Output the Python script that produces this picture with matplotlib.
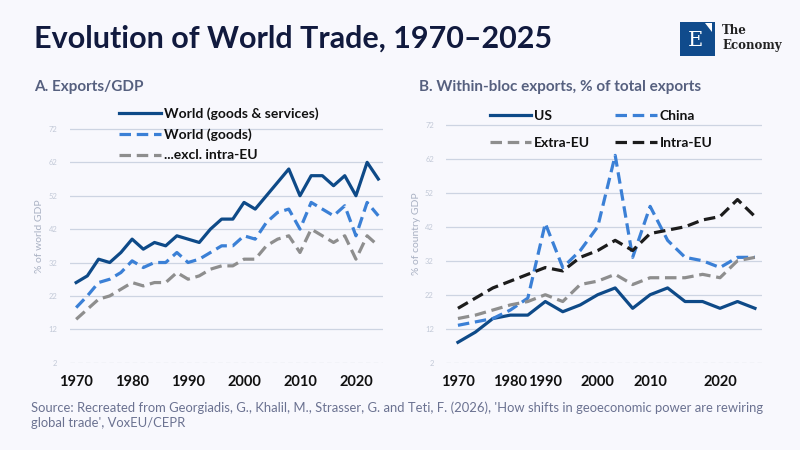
import matplotlib
matplotlib.use("Agg")
import matplotlib.pyplot as plt
from matplotlib.patches import Rectangle, Polygon

plt.rcParams['font.family'] = ['Lato', 'DejaVu Sans']

# ---- Panel A data ----
years_a = [1970, 1972, 1974, 1976, 1978, 1980, 1982, 1984, 1986, 1988, 1990, 1992, 1994, 1996,
           1998, 2000, 2002, 2004, 2006, 2008, 2010, 2012, 2014, 2016, 2018, 2020, 2022, 2024]
world_gs = [26, 28, 33, 32, 35, 39, 36, 38, 37, 40, 39, 38, 42, 45,
            45, 50, 48, 52, 56, 60, 52, 58, 58, 55, 58, 52, 62, 57]
world_goods = [18.5, 22, 26, 27, 29, 32.5, 30.5, 32, 32, 35, 32, 33, 35, 37,
               37, 40, 39, 44, 47, 48, 42, 50, 48, 46, 49, 40, 50, 46]
excl_intra_eu = [15, 18, 21, 22, 24, 26, 25, 26, 26, 29, 27, 28, 30, 31,
                 31, 33, 33, 37, 39, 40, 35, 42, 40, 38, 40, 33, 40, 37]

# ---- Panel B data ----
years_b = [1970, 1973, 1976, 1980, 1985, 1990, 1994, 1997, 2000, 2003, 2007, 2010,
           2013, 2016, 2018, 2020, 2023, 2025]
us = [8, 11, 15, 16, 16, 20, 17, 19, 22, 24, 18, 22, 24, 20, 20, 18, 20, 18]
china = [13, 14, 15, 17.5, 21, 43, 30, 35, 42, 63, 33, 48, 38, 33, 32, 30, 33, 33]
extra_eu = [15, 16, 17.5, 19, 20, 22, 20, 25, 26, 28, 25, 27, 27, 27, 28, 27, 32, 33]
intra_eu = [18, 21, 24, 26, 28, 30, 29, 33, 35, 38, 35, 40, 41, 42, 44, 45, 50, 45]

tick_years_a = [1970, 1980, 1990, 2000, 2010, 2020]
tick_years_b = [1970, 1980, 1990, 2000, 2010, 2020]
yticks = [2, 12, 22, 32, 42, 52, 62, 72]

BG = '#f8f8fd'
DARK = '#0e4a88'
LIGHT = '#3b80d6'
GRAY = '#8e8e8e'
BLACK = '#1c1c1c'
GRID = '#cdd4e2'
TICKC = '#c3cad8'

fig = plt.figure(figsize=(8, 4.5), dpi=100, facecolor=BG)

dash = (0, (3.6, 1.8))


def style_axes(ax, ylabel):
    ax.set_facecolor(BG)
    for s in ax.spines.values():
        s.set_visible(False)
    ax.set_ylim(2, 78)
    ax.set_yticks(yticks)
    ax.set_yticklabels([str(v) for v in yticks], fontsize=5.5, color=TICKC)
    for v in yticks:
        if v == 2:
            ax.axhline(v, color='#9aa0ad', lw=0.8, ls=(0, (4, 3)), zorder=1)
        else:
            ax.axhline(v, color=GRID, lw=0.9, zorder=1)
    ax.tick_params(axis='both', length=0)
    ax.tick_params(axis='y', pad=9)
    ax.tick_params(axis='x', pad=9, labelsize=10.5)
    for lab in ax.get_xticklabels():
        lab.set_fontweight('bold')
    ax.set_ylabel(ylabel, fontsize=7.5, color='#a9b1c3', labelpad=3)


def style_legend(leg):
    for t in leg.get_texts():
        t.set_fontweight('bold')
        t.set_color('#111111')


# Panel A
axA = fig.add_axes([0.0875, 0.194, 0.391, 0.564])
axA.plot(years_a, world_gs, color=DARK, lw=2.3, label='World (goods & services)', zorder=3)
axA.plot(years_a, world_goods, color=LIGHT, lw=2.3, ls=dash, label='World (goods)', zorder=3)
axA.plot(years_a, excl_intra_eu, color=GRAY, lw=2.3, ls=dash, label='...excl. intra-EU', zorder=3)
axA.set_xlim(1968.9, 2024.8)
axA.set_xticks(tick_years_a)
axA.set_xticklabels([str(y) for y in tick_years_a], fontweight='bold', color='#111111')
style_axes(axA, '% of world GDP')
legA = axA.legend(loc='upper left', bbox_to_anchor=(0.14, 1.03), frameon=False,
                  fontsize=10, handlelength=3.0, handletextpad=0.2, labelspacing=0.62,
                  borderaxespad=0)
style_legend(legA)

# Panel B
axB = fig.add_axes([0.558, 0.194, 0.394, 0.574])
xb = list(range(len(years_b)))
l_us, = axB.plot(xb, us, color=DARK, lw=2.3, label='US', zorder=3)
l_cn, = axB.plot(xb, china, color=LIGHT, lw=2.3, ls=dash, label='China', zorder=3)
l_ex, = axB.plot(xb, extra_eu, color=GRAY, lw=2.3, ls=dash, label='Extra-EU', zorder=3)
l_in, = axB.plot(xb, intra_eu, color=BLACK, lw=2.3, ls=dash, label='Intra-EU', zorder=3)
axB.set_xlim(-0.66, 17.38)
axB.set_xticks([years_b.index(y) for y in tick_years_b])
axB.set_xticklabels([str(y) for y in tick_years_b], fontweight='bold', color='#111111')
style_axes(axB, '% of country GDP')
legB = axB.legend(handles=[l_us, l_ex, l_cn, l_in], loc='upper left', bbox_to_anchor=(0.12, 1.0),
                  frameon=False, ncol=2, fontsize=10, handlelength=3.0, handletextpad=0.2,
                  labelspacing=1.05, columnspacing=1.8, borderaxespad=0)
style_legend(legB)

# Titles
fig.text(0.043, 0.915, 'Evolution of World Trade, 1970\u20132025', fontsize=22, fontweight='bold',
         color='#111a3e', va='center', ha='left')
fig.text(0.043, 0.806, 'A. Exports/GDP', fontsize=11, fontweight='bold', color='#56607f',
         va='center', ha='left')
fig.text(0.524, 0.806, 'B. Within-bloc exports, % of total exports', fontsize=11, fontweight='bold',
         color='#56607f', va='center', ha='left')

# Source
fig.text(0.039, 0.093, "Source: Recreated from Georgiadis, G., Khalil, M., Strasser, G. and Teti, F. (2026), 'How shifts in geoeconomic power are rewiring",
         fontsize=9.4, color='#6b7291', va='center', ha='left')
fig.text(0.039, 0.060, "global trade', VoxEU/CEPR", fontsize=9.4, color='#6b7291', va='center', ha='left')

# Logo
lx0, ly0, lw_, lh_ = 680 / 800, 1 - 56 / 450, 35 / 800, 34 / 450
fig.patches.append(Rectangle((lx0, ly0), lw_, lh_, transform=fig.transFigure, facecolor='#104b8c',
                             edgecolor='none'))
fig.patches.append(Polygon([(lx0 + lw_ * 0.72, ly0 + lh_ * 0.98), (lx0 + lw_ * 0.9, ly0 + lh_ * 0.98),
                            (lx0 + lw_ * 0.9, ly0 + lh_ * 0.72)], closed=True, transform=fig.transFigure,
                           facecolor='white', edgecolor='none'))
fig.text(lx0 + lw_ * 0.45, ly0 + lh_ * 0.45, 'E', fontsize=15, color='white', family='DejaVu Serif',
         ha='center', va='center')
fig.text(722 / 800, 1 - 31 / 450, 'The', fontsize=8.5, color='#222222', family='DejaVu Serif',
         fontweight='bold', ha='left', va='center')
fig.text(722 / 800, 1 - 45 / 450, 'Economy', fontsize=8.5, color='#222222', family='DejaVu Serif',
         fontweight='bold', ha='left', va='center')

fig.savefig('out.png', dpi=100, facecolor=BG)
